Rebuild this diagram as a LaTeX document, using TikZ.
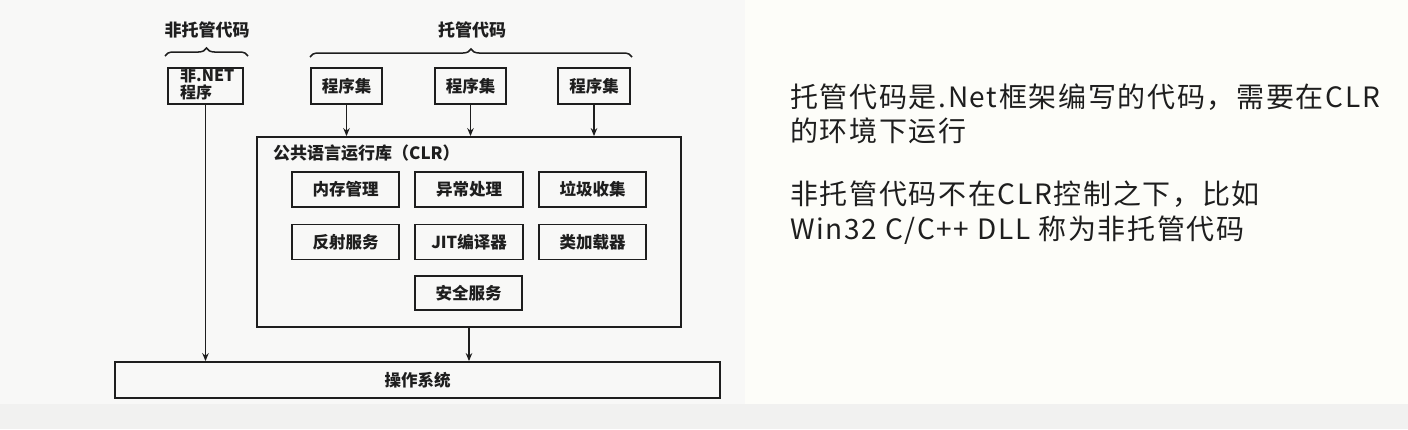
\documentclass[tikz,border=0pt]{standalone}
\usepackage{fontspec}
\setmainfont{Noto Sans CJK SC}
\newfontfamily\hand[LetterSpace=6]{Noto Sans CJK SC}
\usetikzlibrary{decorations.pathreplacing,arrows.meta}
\definecolor{ink}{HTML}{1E1E1E}
\definecolor{bgbottom}{HTML}{F1F1F0}
\definecolor{bgpanel}{HTML}{F8F8F7}
\definecolor{bgright}{HTML}{FDFDF9}
\tikzset{
  box/.style={draw=ink, line width=1.8pt, inner sep=0pt, font=\fontsize{16.5}{18}\selectfont\bfseries, text=ink},
  arr/.style={draw=ink, line width=1.5pt, -{Stealth[length=8pt,width=6.5pt]}},
  brc/.style={draw=ink, line width=1.5pt, decorate, decoration={brace, amplitude=8pt}},
  lbl/.style={font=\fontsize{17}{19}\selectfont\bfseries, text=ink},
  note/.style={anchor=base west, font=\hand\fontsize{28}{30}\selectfont, text=ink, inner sep=0pt}
}
\begin{document}
\begin{tikzpicture}[x=1pt,y=-1pt]
\useasboundingbox (0,0) rectangle (1408,429);
\fill[bgbottom] (0,0) rectangle (1408,429);
\fill[bgpanel] (0,0) rectangle (745,404);
\fill[bgright] (745,0) rectangle (1408,404);

% labels and braces
\node[lbl] (lu) at (207,30) {非托管代码};
\node[lbl] (lm) at (472,30) {托管代码};
\coordinate (bu1) at (165,56);
\coordinate (bu2) at (248,56);
\coordinate (bm1) at (310,57);
\coordinate (bm2) at (632,57);
\draw[brc] (bu1) -- (bu2);
\draw[brc] (bm1) -- (bm2);

% top boxes
\node[box, minimum width=75pt, minimum height=36pt] (nonnet) at (205.5,86) {};
\node[font=\fontsize{16}{17}\selectfont\bfseries, text=ink, align=left, anchor=north west, inner sep=0pt] (nonnett) at (180,68) {非.NET\\程序};
\node[box, minimum width=71pt, minimum height=36pt] (asm1) at (346.5,86) {程序集};
\node[box, minimum width=71pt, minimum height=36pt] (asm2) at (470.5,86) {程序集};
\node[box, minimum width=72pt, minimum height=36pt] (asm3) at (594,86) {程序集};

% CLR
\node[box, minimum width=424pt, minimum height=190pt] (clr) at (469,232) {};
\node[anchor=west, font=\fontsize{17}{19}\selectfont\bfseries, text=ink, inner sep=0pt] (clrt) at (273,153) {公共语言运行库（CLR）};
\node[box, minimum width=107pt, minimum height=35pt] (mem) at (345.5,189.5) {内存管理};
\node[box, minimum width=108pt, minimum height=35pt] (exc) at (469,189.5) {异常处理};
\node[box, minimum width=107pt, minimum height=35pt] (gc) at (592.5,189.5) {垃圾收集};
\node[box, minimum width=107pt, minimum height=35pt] (refl) at (345.5,242) {反射服务};
\node[box, minimum width=108pt, minimum height=35pt] (jit) at (469,242) {JIT编译器};
\node[box, minimum width=107pt, minimum height=35pt] (cl) at (592.5,242) {类加载器};
\node[box, minimum width=107pt, minimum height=34pt] (sec) at (468.5,293) {安全服务};

% OS
\node[box, minimum width=605pt, minimum height=36pt] (os) at (417.5,380) {操作系统};

% arrows
\draw[arr] (asm1.south) -- (asm1.south |- clr.north);
\draw[arr] (asm2.south) -- (asm2.south |- clr.north);
\draw[arr] (asm3.south) -- (asm3.south |- clr.north);
\draw[arr] (nonnet.south) -- (nonnet.south |- os.north);
\draw[arr] (clr.south) -- (clr.south |- os.north);

% right notes
\node[note] (n1) at (790,107) {托管代码是.Net框架编写的代码，需要在CLR};
\node[note] (n2) at (790,141) {的环境下运行};
\node[note] (n3) at (790,204) {非托管代码不在CLR控制之下，比如};
\node[note] (n4) at (790,239) {Win32 C/C++ DLL 称为非托管代码};
\end{tikzpicture}
\end{document}
